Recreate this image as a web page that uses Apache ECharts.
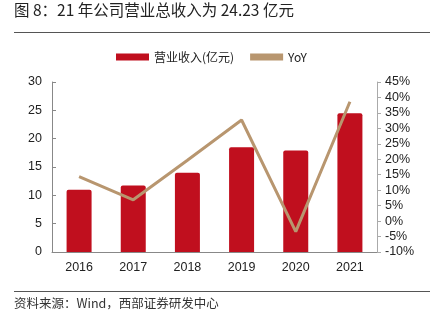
<!DOCTYPE html>
<html><head><meta charset="utf-8">
<script src="https://cdn.jsdelivr.net/npm/echarts@6/dist/echarts.min.js"></script>
<style>html,body{margin:0;padding:0;background:#fff;}#c{width:436px;height:322px;}</style>
</head><body><div id="c"></div>
<script>
const categories = ['2016','2017','2018','2019','2020','2021'];
const revenue = [11.0, 11.75, 14.0, 18.5, 17.9, 24.5];
const yoy = [14.4, 6.9, 19.7, 32.7, -3.4, 38.6];
const leftTicks = [0, 30, 5];
const rightTicks = [-10, 45, 5];

const chart = echarts.init(document.getElementById('c'));
const font = 'Liberation Sans, Arial, Noto Sans CJK SC, sans-serif';
chart.setOption({
  animation: false,
  textStyle: {fontFamily: font},
  graphic: [
    {type:'text', left: 14, top: 2, style:{text:'图 8：21 年公司营业总收入为 24.23 亿元', font:'15.5px "Noto Sans CJK SC", sans-serif', fill:'#222'}},
    {type:'line', shape:{x1:14,y1:32.5,x2:430,y2:32.5}, style:{stroke:'#555', lineWidth:1}},
    {type:'line', shape:{x1:14,y1:291.5,x2:430,y2:291.5}, style:{stroke:'#555', lineWidth:1}},
    {type:'text', left: 14, top: 297, style:{text:'资料来源：Wind，西部证券研发中心', font:'12.5px "Noto Sans CJK SC", sans-serif', fill:'#333'}}
  ],
  legend: {
    top: 46, left: 111, itemGap: 16,
    textStyle: {fontSize: 12, color: '#222', fontFamily: '"Noto Sans CJK SC", sans-serif'},
    data: [
      {name:'营业收入(亿元)', icon:'rect', itemStyle:{color:'#c00f1e'}},
      {name:'YoY', icon:'rect'}
    ],
    itemWidth: 33, itemHeight: 7
  },
  grid: {left: 52, right: 59, top: 82, bottom: 70},
  xAxis: {
    type:'category', data: categories, boundaryGap: true,
    axisLine:{lineStyle:{color:'#888'}},
    axisTick:{inside:true, length:4, lineStyle:{color:'#888'}},
    axisLabel:{fontSize:12.5, color:'#222', margin:9, fontFamily: font}
  },
  yAxis: [
    {type:'value', min:leftTicks[0], max:leftTicks[1], interval:leftTicks[2], position:'left',
     axisLine:{show:true, lineStyle:{color:'#888'}},
     axisTick:{show:true, inside:true, length:4, lineStyle:{color:'#888'}},
     splitLine:{show:false},
     axisLabel:{fontSize:12.5, color:'#222', margin:10, fontFamily: font}},
    {type:'value', min:rightTicks[0], max:rightTicks[1], interval:rightTicks[2], position:'right',
     axisLine:{show:true, lineStyle:{color:'#aaa'}},
     axisTick:{show:true, length:4, lineStyle:{color:'#aaa'}},
     splitLine:{show:false},
     axisLabel:{fontSize:12.5, color:'#222', margin:8, formatter:'{value}%', fontFamily: font}}
  ],
  series: [
    {name:'营业收入(亿元)', type:'bar', data: revenue, barWidth: 25, yAxisIndex:0,
     itemStyle:{color:'#c00f1e', borderRadius:[2,2,0,0]}},
    {name:'YoY', type:'line', data: yoy, yAxisIndex:1, symbol:'none',
     lineStyle:{color:'#b8966f', width:3}, itemStyle:{color:'#b8966f'}}
  ]
});
</script></body></html>
